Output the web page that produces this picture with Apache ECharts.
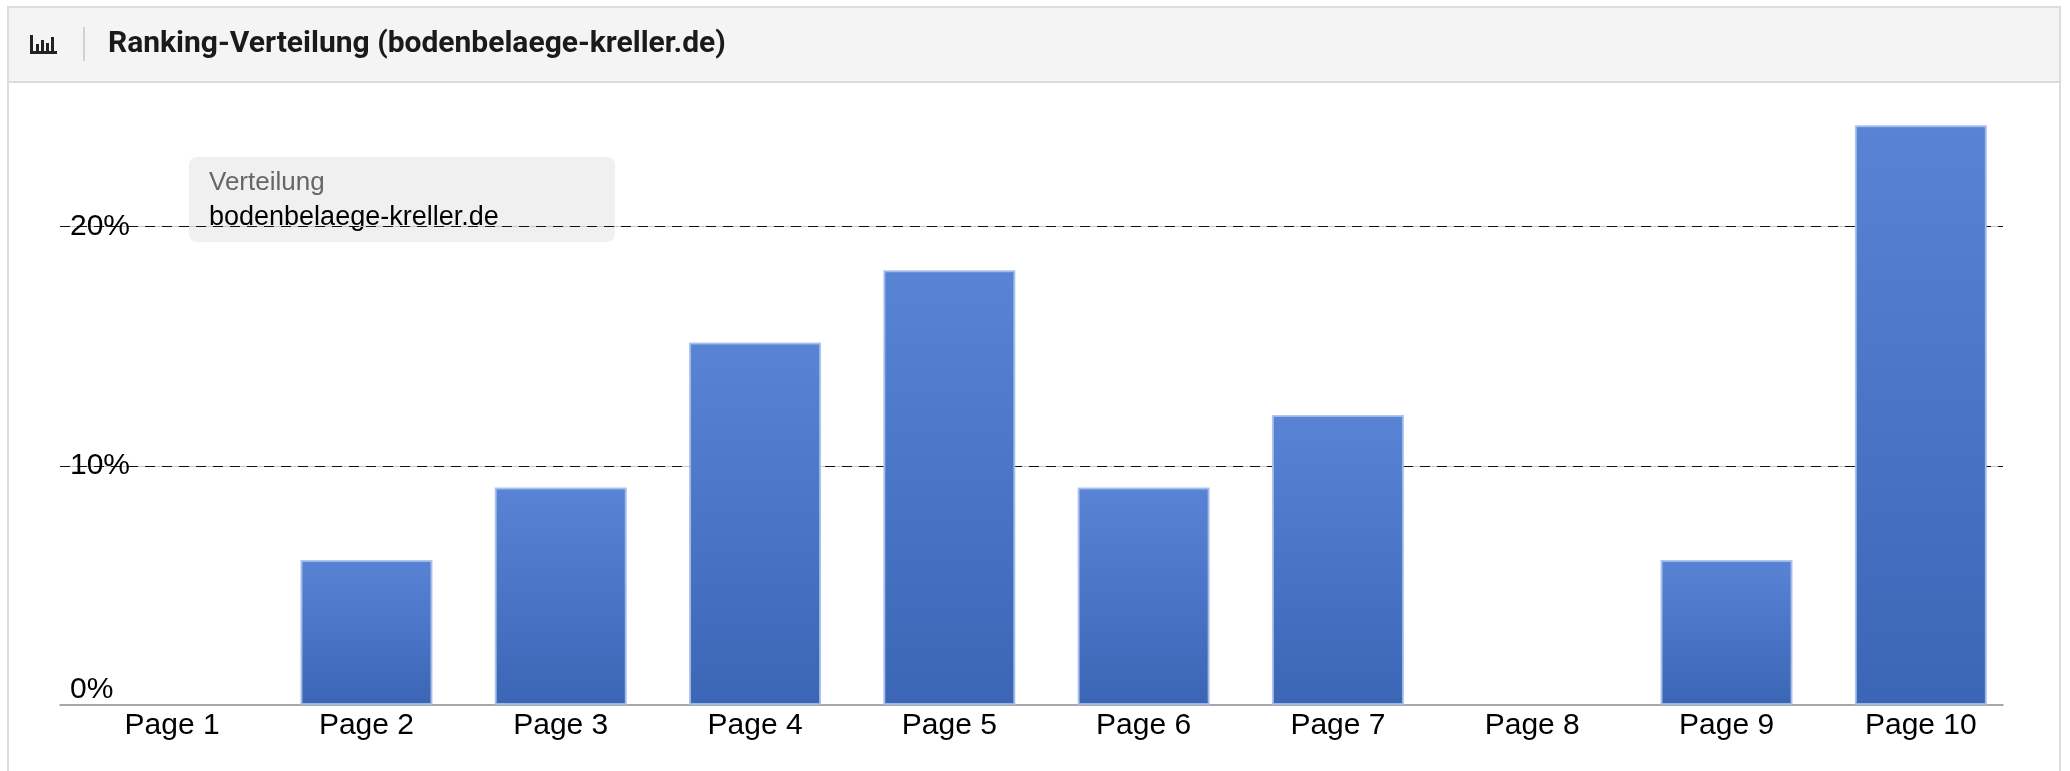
<!DOCTYPE html>
<html>
<head>
<meta charset="utf-8">
<title>Ranking-Verteilung</title>
<script src="https://cdn.jsdelivr.net/npm/echarts@6/dist/echarts.min.js"></script>
<style>
  html, body { margin: 0; padding: 0; background: #fff; }
  #main { width: 2070px; height: 771px; }
</style>
</head>
<body>
<div id="main"></div>
<script>
// Daten
const categories = ['Page 1', 'Page 2', 'Page 3', 'Page 4', 'Page 5', 'Page 6', 'Page 7', 'Page 8', 'Page 9', 'Page 10'];
const shareValues = [0, 6.06, 9.09, 15.15, 18.18, 9.09, 12.12, 0, 6.06, 24.24];
const yMin = 0;
const yMax = 25;
const yStep = 10;
const seriesName = 'bodenbelaege-kreller.de';
const legendTitle = 'Verteilung';
const chartTitle = 'Ranking-Verteilung (bodenbelaege-kreller.de)';

const labelFont = 'Liberation Sans, Arial, sans-serif';

// leere Balken ohne Rand
const barData = shareValues.map(v => v === 0 ? { value: v, itemStyle: { borderWidth: 0 } } : v);

const myChart = echarts.init(document.getElementById('main'));

myChart.setOption({
  animation: false,
  backgroundColor: '#fff',
  grid: [
    // Raster + Achsenlinie
    { left: 60, right: 67, top: 107, bottom: 66 },
    // Balken
    { left: 75, right: 52, top: 107, bottom: 66 }
  ],
  xAxis: [
    {
      gridIndex: 0,
      type: 'category',
      data: categories,
      axisLine: { lineStyle: { color: '#8c8c8c', width: 1.5 } },
      axisTick: { show: false },
      axisLabel: { show: false },
      splitLine: { show: false }
    },
    {
      gridIndex: 1,
      type: 'category',
      data: categories,
      axisLine: { show: false },
      axisTick: { show: false },
      axisLabel: {
        color: '#000',
        fontSize: 30,
        fontFamily: labelFont,
        margin: 6
      }
    }
  ],
  yAxis: [
    {
      gridIndex: 0,
      type: 'value',
      min: yMin,
      max: yMax,
      interval: yStep,
      z: 3,
      axisLine: { show: false },
      axisTick: { show: false },
      axisLabel: {
        inside: true,
        margin: 10,
        color: '#000',
        fontSize: 30,
        fontFamily: labelFont,
        formatter: '{value}%',
        showMaxLabel: false,
        verticalAlignMinLabel: 'bottom'
      },
      splitLine: {
        show: true,
        showMinLine: false,
        showMaxLine: false,
        lineStyle: { color: '#111', width: 1, type: [10, 7] }
      }
    },
    {
      // graue Linie unter den Strichen
      gridIndex: 0,
      type: 'value',
      position: 'right',
      min: yMin,
      max: yMax,
      interval: yStep,
      z: 1,
      axisLine: { show: false },
      axisTick: { show: false },
      axisLabel: { show: false },
      splitLine: {
        show: true,
        showMinLine: false,
        showMaxLine: false,
        lineStyle: { color: '#c8c8c8', width: 1 }
      }
    },
    {
      gridIndex: 1,
      type: 'value',
      min: yMin,
      max: yMax,
      interval: yStep,
      show: false
    }
  ],
  series: [{
    name: seriesName,
    type: 'bar',
    xAxisIndex: 1,
    yAxisIndex: 2,
    data: barData,
    barWidth: 132,
    z: 5,
    itemStyle: {
      color: new echarts.graphic.LinearGradient(0, 0, 0, 1, [
        { offset: 0, color: '#5984d6' },
        { offset: 1, color: '#3b65b5' }
      ]),
      borderColor: 'rgba(165,190,235,0.9)',
      borderWidth: 2
    }
  }],
  graphic: [
    // Rahmen
    {
      type: 'rect', z: -10, silent: true,
      shape: { x: 8, y: 7, width: 2052, height: 820 },
      style: { fill: 'none', stroke: '#dcdcdc', lineWidth: 2 }
    },
    // Kopfzeile
    {
      type: 'rect', z: -9, silent: true,
      shape: { x: 9, y: 8, width: 2050, height: 74 },
      style: { fill: '#f4f4f4' }
    },
    {
      type: 'line', z: -8, silent: true,
      shape: { x1: 9, y1: 82, x2: 2059, y2: 82 },
      style: { stroke: '#dcdcdc', lineWidth: 2 }
    },
    // Icon
    {
      type: 'group', z: 10, silent: true,
      children: [
        { type: 'rect', shape: { x: 30, y: 35, width: 3, height: 19 }, style: { fill: '#222' } },
        { type: 'rect', shape: { x: 30, y: 51, width: 27, height: 3 }, style: { fill: '#222' } },
        { type: 'rect', shape: { x: 36, y: 44, width: 3, height: 7 }, style: { fill: '#222' } },
        { type: 'rect', shape: { x: 41, y: 40, width: 3, height: 11 }, style: { fill: '#222' } },
        { type: 'rect', shape: { x: 46, y: 43, width: 3, height: 8 }, style: { fill: '#222' } },
        { type: 'rect', shape: { x: 51, y: 37, width: 3, height: 14 }, style: { fill: '#222' } }
      ]
    },
    {
      type: 'line', z: 10, silent: true,
      shape: { x1: 84, y1: 27, x2: 84, y2: 61 },
      style: { stroke: '#d0d0d0', lineWidth: 2 }
    },
    // Titel
    {
      type: 'text', z: 10, silent: true,
      x: 108, y: 44,
      style: {
        text: chartTitle,
        fill: '#1a1a1a',
        font: 'bold 30px Roboto, sans-serif',
        verticalAlign: 'middle'
      }
    },
    // Legende
    {
      type: 'group', z: 20, silent: true,
      children: [
        {
          type: 'rect',
          shape: { x: 189, y: 157, width: 426, height: 85, r: 8 },
          style: { fill: 'rgba(232,232,232,0.65)' }
        },
        {
          type: 'text', x: 209, y: 183,
          style: { text: legendTitle, fill: '#666', font: '26px ' + labelFont, verticalAlign: 'middle' }
        },
        {
          type: 'text', x: 209, y: 218,
          style: { text: seriesName, fill: '#000', font: '27px ' + labelFont, verticalAlign: 'middle' }
        }
      ]
    }
  ]
});
</script>
</body>
</html>
